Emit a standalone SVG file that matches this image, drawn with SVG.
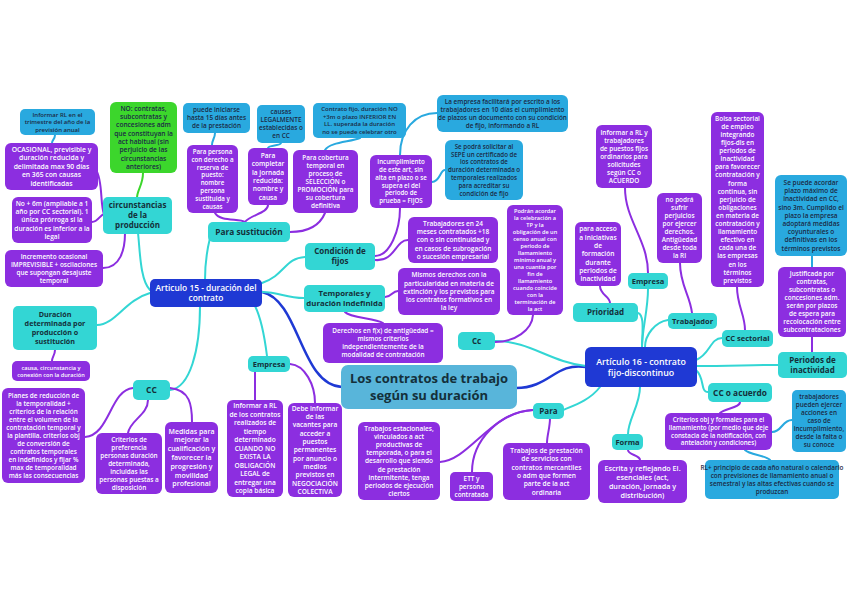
<svg xmlns="http://www.w3.org/2000/svg" width="848" height="599" viewBox="0 0 848 599">
<style>
.bg{fill:#ffffff}
.p{fill:#8c2ee0}
.c{fill:#33d6d4}
.b{fill:#29a9df}
.g{fill:#3cd62c}
.d{fill:#1f39d4}
.m{fill:#58b5da}
text{font-family:"Open Sans","Noto Sans","Liberation Sans",sans-serif;text-anchor:middle;font-weight:600}
.tw{fill:#ffffff}
.tk{fill:#1b2a45}
.tc{fill:#14303a;font-weight:700}
.lc{fill:none;stroke:#33d6d4;stroke-width:2;stroke-linecap:round}
.lp{fill:none;stroke:#8c2ee0;stroke-width:2;stroke-linecap:round}
.lb{fill:none;stroke:#29a9df;stroke-width:2;stroke-linecap:round}
.lg{fill:none;stroke:#3cd62c;stroke-width:2;stroke-linecap:round}
.ld{fill:none;stroke:#1f39d4;stroke-width:2.5;stroke-linecap:round}
</style>
<rect class="bg" x="0" y="0" width="848" height="599"/>
<g id="connectors">
<path class="ld" d="M262,292 C300,300 300,385 342,387"/>
<path class="ld" d="M516,388 C550,388 555,362 586,367"/>
<path class="lc" d="M150,290 C140,280 140,250 138,233"/>
<path class="lc" d="M205,280 C205,260 207,250 210,238"/>
<path class="lc" d="M262,283 C285,275 285,258 305,257"/>
<path class="lc" d="M262,292 C280,292 285,298 304,298"/>
<path class="lc" d="M255,306 C262,320 265,340 267,356"/>
<path class="lc" d="M200,306 C200,350 190,388 170,390"/>
<path class="lc" d="M150,293 C125,300 115,325 97,325"/>
<path class="lc" d="M495,341 C530,341 550,362 586,366"/>
<path class="lc" d="M600,387 C590,400 575,405 563,410"/>
<path class="lc" d="M638,313 C645,315 642,335 642,347"/>
<path class="lc" d="M648,289 C648,310 642,330 642,347"/>
<path class="lc" d="M668,320 C655,322 645,335 645,347"/>
<path class="lc" d="M696,360 C710,355 710,338 722,338"/>
<path class="lc" d="M696,366 C730,366 750,365 778,365"/>
<path class="lc" d="M696,370 C705,378 700,392 708,392"/>
<path class="lc" d="M640,387 C640,405 628,420 628,434"/>
<path class="lp" d="M96,170 C103,180 100,205 104,214"/>
<path class="lp" d="M92,222 C98,222 100,215 104,214"/>
<path class="lp" d="M103,268 C120,268 125,250 125,233"/>
<path class="lg" d="M143,173 C143,185 137,190 137,198"/>
<path class="lb" d="M55,135 C55,139 52,140 52,143"/>
<path class="lp" d="M55,350 C55,355 52,357 52,361"/>
<path class="lp" d="M133,388 C110,390 110,435 85,437"/>
<path class="lp" d="M148,400 C148,415 130,420 128,433"/>
<path class="lp" d="M170,388 C190,390 192,405 192,422"/>
<path class="lp" d="M215,213 C220,222 240,218 245,222"/>
<path class="lp" d="M268,205 C268,213 250,215 245,222"/>
<path class="lp" d="M290,232 C310,232 320,225 325,213"/>
<path class="lb" d="M215,133 C215,138 212,140 212,145"/>
<path class="lb" d="M281,143 C281,146 268,145 268,148"/>
<path class="lb" d="M360,138 C350,142 330,142 325,150"/>
<path class="lp" d="M375,256 C390,256 400,230 400,208"/>
<path class="lp" d="M375,260 C395,262 395,240 408,240"/>
<path class="lb" d="M400,155 C400,130 415,113 437,113"/>
<path class="lb" d="M432,182 C440,182 440,170 445,170"/>
<path class="lp" d="M385,297 C392,297 392,291 398,291"/>
<path class="lp" d="M345,312 C350,318 375,318 383,323"/>
<path class="lp" d="M255,372 C255,385 255,392 255,400"/>
<path class="lp" d="M290,364 C305,365 315,385 315,403"/>
<path class="lp" d="M495,342 C515,342 532,330 533,315"/>
<path class="lp" d="M533,410 C490,412 470,460 440,462"/>
<path class="lp" d="M533,410 C500,412 472,440 472,472"/>
<path class="lp" d="M550,418 C550,428 547,435 547,443"/>
<path class="lp" d="M600,286 C600,295 610,296 610,303"/>
<path class="lp" d="M625,188 C625,220 648,240 648,273"/>
<path class="lp" d="M680,263 C680,285 690,295 692,313"/>
<path class="lp" d="M737,287 C737,305 745,315 745,330"/>
<path class="lb" d="M812,256 L812,267"/>
<path class="lp" d="M812,337 L812,352"/>
<path class="lp" d="M740,402 C740,408 725,408 720,413"/>
<path class="lb" d="M772,432 C782,432 782,420 792,420"/>
<path class="lb" d="M745,450 C750,455 765,455 770,460"/>
<path class="lp" d="M628,450 C628,455 640,455 640,460"/>
</g>

<g id="central"><rect class="m" x="341" y="365" width="176" height="44" rx="7"/>
<text class="tc" font-size="13" x="429" y="382.5"><tspan x="429" dy="0">Los contratos de trabajo</tspan><tspan x="429" dy="17">según su duración</tspan></text></g>

<g id="art15"><rect class="d" x="150" y="279" width="112" height="28" rx="5"/>
<text class="tw" font-size="8.4" font-weight="700" x="206" y="290.8"><tspan x="206" dy="0">Articulo 15 - duración del</tspan><tspan x="206" dy="10.5">contrato</tspan></text></g>

<g id="art16"><rect class="d" x="585" y="347" width="112" height="40" rx="6"/>
<text class="tw" font-size="8.8" font-weight="700" x="641" y="364.7"><tspan x="641" dy="0">Artículo 16 - contrato</tspan><tspan x="641" dy="11">fijo-discontinuo</tspan></text></g>

<g id="circunstancias"><rect class="c" x="103" y="197" width="69" height="37" rx="5"/>
<text class="tc" font-size="8" x="137.5" y="208.3"><tspan x="137.5" dy="0">circunstancias</tspan><tspan x="137.5" dy="10">de la</tspan><tspan x="137.5" dy="10">producción</tspan></text></g>

<g id="duracion"><rect class="c" x="13" y="306" width="84" height="44" rx="5"/>
<text class="tc" font-size="7.2" x="55" y="317"><tspan x="55" dy="0">Duración</tspan><tspan x="55" dy="9">determinada por</tspan><tspan x="55" dy="9">producción o</tspan><tspan x="55" dy="9">sustitución</tspan></text></g>

<g id="cc15"><rect class="c" x="133" y="380" width="37" height="20" rx="5"/>
<text class="tc" font-size="8.5" x="151.5" y="393">CC</text></g>

<g id="sustitucion"><rect class="c" x="208" y="222" width="82" height="20" rx="5"/>
<text class="tc" font-size="8.3" x="249" y="235">Para sustitución</text></g>

<g id="condicion"><rect class="c" x="305" y="243" width="70" height="27" rx="5"/>
<text class="tc" font-size="8" x="340" y="254.3"><tspan x="340" dy="0">Condición de</tspan><tspan x="340" dy="10">fijos</tspan></text></g>

<g id="temporales"><rect class="c" x="304" y="285" width="81" height="27" rx="5"/>
<text class="tc" font-size="7.8" x="344.5" y="296.3"><tspan x="344.5" dy="0">Temporales y</tspan><tspan x="344.5" dy="10">duración indefinida</tspan></text></g>

<g id="empresa15"><rect class="c" x="248" y="356" width="42" height="16" rx="5"/>
<text class="tc" font-size="7.5" x="269" y="366.6">Empresa</text></g>

<g id="cc16"><rect class="c" x="458" y="332" width="37" height="18" rx="5"/>
<text class="tc" font-size="8" x="476.5" y="343.8">Cc</text></g>

<g id="para"><rect class="c" x="533" y="403" width="31" height="16" rx="5"/>
<text class="tc" font-size="8" x="548.5" y="413.8">Para</text></g>

<g id="prioridad"><rect class="c" x="573" y="303" width="65" height="19" rx="5"/>
<text class="tc" font-size="8" x="605.5" y="315.3">Prioridad</text></g>

<g id="empresa16"><rect class="c" x="628" y="273" width="40" height="16" rx="5"/>
<text class="tc" font-size="7.5" x="648" y="283.6">Empresa</text></g>

<g id="trabajador"><rect class="c" x="668" y="313" width="49" height="16" rx="5"/>
<text class="tc" font-size="7.5" x="692.5" y="323.6">Trabajador</text></g>

<g id="ccsectorial"><rect class="c" x="722" y="330" width="51" height="17" rx="5"/>
<text class="tc" font-size="7.5" x="747.5" y="341.1">CC sectorial</text></g>

<g id="periodos"><rect class="c" x="778" y="352" width="69" height="26" rx="5"/>
<text class="tc" font-size="8" x="812.5" y="362.8"><tspan x="812.5" dy="0">Periodos de</tspan><tspan x="812.5" dy="10">inactividad</tspan></text></g>

<g id="ccacuerdo"><rect class="c" x="708" y="383" width="64" height="19" rx="5"/>
<text class="tc" font-size="8.3" x="740" y="395.5">CC o acuerdo</text></g>

<g id="forma"><rect class="c" x="612" y="434" width="31" height="16" rx="5"/>
<text class="tc" font-size="7.5" x="627.5" y="444.6">Forma</text></g>

<g id="no-contratas"><rect class="g" x="110" y="102" width="67" height="71" rx="6"/>
<text class="tk" font-size="6.6" x="143.5" y="110.8"><tspan x="143.5" dy="0">NO: contratas,</tspan><tspan x="143.5" dy="8.3">subcontratas y</tspan><tspan x="143.5" dy="8.3">concesiones adm</tspan><tspan x="143.5" dy="8.3">que constituyan la</tspan><tspan x="143.5" dy="8.3">act habitual (sin</tspan><tspan x="143.5" dy="8.3">perjuicio de las</tspan><tspan x="143.5" dy="8.3">circunstancias</tspan><tspan x="143.5" dy="8.3">anteriores)</tspan></text></g>

<g id="informar-rl-trim"><rect class="b" x="20" y="109" width="75" height="26" rx="5"/>
<text class="tk" font-size="6" x="57.5" y="116.6"><tspan x="57.5" dy="0">Informar RL en el</tspan><tspan x="57.5" dy="7.5">trimestre del año de la</tspan><tspan x="57.5" dy="7.5">previsión anual</tspan></text></g>

<g id="puede-iniciarse"><rect class="b" x="183" y="103" width="67" height="30" rx="5"/>
<text class="tk" font-size="6.4" x="216.5" y="112.3"><tspan x="216.5" dy="0">puede iniciarse</tspan><tspan x="216.5" dy="8">hasta 15 días antes</tspan><tspan x="216.5" dy="8">de la prestación</tspan></text></g>

<g id="causas-legal"><rect class="b" x="257" y="105" width="48" height="38" rx="5"/>
<text class="tk" font-size="6.4" x="281" y="114.3"><tspan x="281" dy="0">causas</tspan><tspan x="281" dy="8">LEGALMENTE</tspan><tspan x="281" dy="8">establecidas o</tspan><tspan x="281" dy="8">en CC</tspan></text></g>

<g id="contrato-fijo"><rect class="b" x="313" y="103" width="93" height="35" rx="5"/>
<text class="tk" font-size="6" x="359.5" y="111.4"><tspan x="359.5" dy="0">Contrato fijo, duración NO</tspan><tspan x="359.5" dy="7.5">+3m o plazo INFERIOR EN</tspan><tspan x="359.5" dy="7.5">LL. superada la duración</tspan><tspan x="359.5" dy="7.5">no se puede celebrar otro</tspan></text></g>

<g id="empresa-facilitara"><rect class="b" x="437" y="95" width="131" height="37" rx="6"/>
<text class="tk" font-size="6.4" x="502.5" y="103.8"><tspan x="502.5" dy="0">La empresa facilitará por escrito a los</tspan><tspan x="502.5" dy="8">trabajadores en 10 días el cumplimiento</tspan><tspan x="502.5" dy="8">de plazos un documento con su condición</tspan><tspan x="502.5" dy="8">de fijo, informando a RL</tspan></text></g>

<g id="sepe"><rect class="b" x="445" y="140" width="78" height="60" rx="6"/>
<text class="tk" font-size="6.2" x="484" y="148.8"><tspan x="484" dy="0">Se podrá solicitar al</tspan><tspan x="484" dy="7.8">SEPE un certificado de</tspan><tspan x="484" dy="7.8">los contratos de</tspan><tspan x="484" dy="7.8">duración determinada o</tspan><tspan x="484" dy="7.8">temporales realizados</tspan><tspan x="484" dy="7.8">para acreditar su</tspan><tspan x="484" dy="7.8">condición de fijo</tspan></text></g>

<g id="plazo-max"><rect class="b" x="775" y="175" width="72" height="81" rx="6"/>
<text class="tk" font-size="6.5" x="811" y="185"><tspan x="811" dy="0">Se puede acordar</tspan><tspan x="811" dy="8.2">plazo máximo de</tspan><tspan x="811" dy="8.2">inactividad en CC,</tspan><tspan x="811" dy="8.2">sino 3m. Cumplido el</tspan><tspan x="811" dy="8.2">plazo la empresa</tspan><tspan x="811" dy="8.2">adoptará medidas</tspan><tspan x="811" dy="8.2">coyunturales o</tspan><tspan x="811" dy="8.2">definitivas en los</tspan><tspan x="811" dy="8.2">términos previstos</tspan></text></g>

<g id="acciones"><rect class="b" x="792" y="390" width="54" height="62" rx="5"/>
<text class="tk" font-size="6.4" x="819" y="399.3"><tspan x="819" dy="0">trabajadores</tspan><tspan x="819" dy="8">pueden ejercer</tspan><tspan x="819" dy="8">acciones en</tspan><tspan x="819" dy="8">caso de</tspan><tspan x="819" dy="8">incumplimiento,</tspan><tspan x="819" dy="8">desde la falta o</tspan><tspan x="819" dy="8">su conoce</tspan></text></g>

<g id="rl-principio"><rect class="b" x="705" y="460" width="134" height="39" rx="5"/>
<text class="tk" font-size="6.4" x="772" y="469.8"><tspan x="772" dy="0">RL+ principio de cada año natural o calendario</tspan><tspan x="772" dy="8">con previsiones de llamamiento anual o</tspan><tspan x="772" dy="8">semestral y las altas efectivas cuando se</tspan><tspan x="772" dy="8">produzcan</tspan></text></g>

<g id="ocasional"><rect class="p" x="5" y="143" width="93" height="47" rx="6"/>
<text class="tw" font-size="6.8" x="51.5" y="151.9"><tspan x="51.5" dy="0">OCASIONAL, previsible y</tspan><tspan x="51.5" dy="8.5">duración reducida y</tspan><tspan x="51.5" dy="8.5">delimitada max 90 días</tspan><tspan x="51.5" dy="8.5">en 365 con causas</tspan><tspan x="51.5" dy="8.5">identificadas</tspan></text></g>

<g id="no-6m"><rect class="p" x="12" y="197" width="80" height="46" rx="6"/>
<text class="tw" font-size="6.6" x="52" y="205.7"><tspan x="52" dy="0">No + 6m (ampliable a 1</tspan><tspan x="52" dy="8.3">año por CC sectorial). 1</tspan><tspan x="52" dy="8.3">única prórroga si la</tspan><tspan x="52" dy="8.3">duración es inferior a la</tspan><tspan x="52" dy="8.3">legal</tspan></text></g>

<g id="incremento"><rect class="p" x="5" y="250" width="98" height="37" rx="6"/>
<text class="tw" font-size="6.4" x="54" y="258.7"><tspan x="54" dy="0">Incremento ocasional</tspan><tspan x="54" dy="8">IMPREVISIBLE + oscilaciones</tspan><tspan x="54" dy="8">que supongan desajuste</tspan><tspan x="54" dy="8">temporal</tspan></text></g>

<g id="causa"><rect class="p" x="12" y="361" width="78" height="20" rx="5"/>
<text class="tw" font-size="5.6" x="51" y="369.5"><tspan x="51" dy="0">causa, circunstancia y</tspan><tspan x="51" dy="7">conexión con la duración</tspan></text></g>

<g id="planes"><rect class="p" x="2" y="388" width="83" height="95" rx="6"/>
<text class="tw" font-size="6.4" x="43.5" y="397.8"><tspan x="43.5" dy="0">Planes de reducción de</tspan><tspan x="43.5" dy="8">la temporalidad +</tspan><tspan x="43.5" dy="8">criterios de la relación</tspan><tspan x="43.5" dy="8">entre el volumen de la</tspan><tspan x="43.5" dy="8">contratación temporal y</tspan><tspan x="43.5" dy="8">la plantilla. criterios obj</tspan><tspan x="43.5" dy="8">de conversión de</tspan><tspan x="43.5" dy="8">contratos temporales</tspan><tspan x="43.5" dy="8">en indefinidos y fijar %</tspan><tspan x="43.5" dy="8">max de temporalidad</tspan><tspan x="43.5" dy="8">más las consecuencias</tspan></text></g>

<g id="criterios-pref"><rect class="p" x="96" y="433" width="66" height="61" rx="6"/>
<text class="tw" font-size="6.4" x="129" y="441.8"><tspan x="129" dy="0">Criterios de</tspan><tspan x="129" dy="8">preferencia</tspan><tspan x="129" dy="8">personas duración</tspan><tspan x="129" dy="8">determinada,</tspan><tspan x="129" dy="8">incluidas las</tspan><tspan x="129" dy="8">personas puestas a</tspan><tspan x="129" dy="8">disposición</tspan></text></g>

<g id="medidas"><rect class="p" x="165" y="422" width="53" height="71" rx="6"/>
<text class="tw" font-size="7" x="191.5" y="433.5"><tspan x="191.5" dy="0">Medidas para</tspan><tspan x="191.5" dy="8.8">mejorar la</tspan><tspan x="191.5" dy="8.8">cualificación y</tspan><tspan x="191.5" dy="8.8">favorecer la</tspan><tspan x="191.5" dy="8.8">progresión y</tspan><tspan x="191.5" dy="8.8">movilidad</tspan><tspan x="191.5" dy="8.8">profesional</tspan></text></g>

<g id="para-persona"><rect class="p" x="187" y="145" width="51" height="68" rx="6"/>
<text class="tw" font-size="6.2" x="212.5" y="153.9"><tspan x="212.5" dy="0">Para persona</tspan><tspan x="212.5" dy="7.8">con derecho a</tspan><tspan x="212.5" dy="7.8">reserva de</tspan><tspan x="212.5" dy="7.8">puesto:</tspan><tspan x="212.5" dy="7.8">nombre</tspan><tspan x="212.5" dy="7.8">persona</tspan><tspan x="212.5" dy="7.8">sustituida y</tspan><tspan x="212.5" dy="7.8">causas</tspan></text></g>

<g id="para-completar"><rect class="p" x="248" y="148" width="40" height="57" rx="6"/>
<text class="tw" font-size="6.6" x="268" y="158"><tspan x="268" dy="0">Para</tspan><tspan x="268" dy="8.3">completar</tspan><tspan x="268" dy="8.3">la jornada</tspan><tspan x="268" dy="8.3">reducida:</tspan><tspan x="268" dy="8.3">nombre y</tspan><tspan x="268" dy="8.3">causa</tspan></text></g>

<g id="para-cobertura"><rect class="p" x="293" y="150" width="65" height="63" rx="6"/>
<text class="tw" font-size="6.4" x="325.5" y="159.8"><tspan x="325.5" dy="0">Para cobertura</tspan><tspan x="325.5" dy="8">temporal en</tspan><tspan x="325.5" dy="8">proceso de</tspan><tspan x="325.5" dy="8">SELECCIÓN o</tspan><tspan x="325.5" dy="8">PROMOCIÓN para</tspan><tspan x="325.5" dy="8">su cobertura</tspan><tspan x="325.5" dy="8">definitiva</tspan></text></g>

<g id="incumplimiento"><rect class="p" x="370" y="155" width="62" height="53" rx="6"/>
<text class="tw" font-size="6.2" x="401" y="164.2"><tspan x="401" dy="0">Incumplimiento</tspan><tspan x="401" dy="7.8">de este art, sin</tspan><tspan x="401" dy="7.8">alta en plazo o se</tspan><tspan x="401" dy="7.8">supera el del</tspan><tspan x="401" dy="7.8">periodo de</tspan><tspan x="401" dy="7.8">prueba = FIJOS</tspan></text></g>

<g id="trabajadores24"><rect class="p" x="408" y="217" width="90" height="46" rx="6"/>
<text class="tw" font-size="6.5" x="453" y="225.9"><tspan x="453" dy="0">Trabajadores en 24</tspan><tspan x="453" dy="8.2">meses contratados +18</tspan><tspan x="453" dy="8.2">con o sin continuidad y</tspan><tspan x="453" dy="8.2">en casos de subrogación</tspan><tspan x="453" dy="8.2">o sucesión empresarial</tspan></text></g>

<g id="mismos-derechos"><rect class="p" x="398" y="268" width="102" height="47" rx="6"/>
<text class="tw" font-size="6.5" x="449" y="277.4"><tspan x="449" dy="0">Mismos derechos con la</tspan><tspan x="449" dy="8.2">particularidad en materia de</tspan><tspan x="449" dy="8.2">extinción y los previstos para</tspan><tspan x="449" dy="8.2">los contratos formativos en</tspan><tspan x="449" dy="8.2">la ley</tspan></text></g>

<g id="derechos-antig"><rect class="p" x="323" y="323" width="120" height="40" rx="6"/>
<text class="tw" font-size="6.4" x="383" y="333.2"><tspan x="383" dy="0">Derechos en f(x) de antigüedad =</tspan><tspan x="383" dy="8">mismos criterios</tspan><tspan x="383" dy="8">independientemente de la</tspan><tspan x="383" dy="8">modalidad de contratación</tspan></text></g>

<g id="informar-rl-contratos"><rect class="p" x="227" y="400" width="56" height="97" rx="6"/>
<text class="tw" font-size="6.6" x="255" y="408.3"><tspan x="255" dy="0">Informar a RL</tspan><tspan x="255" dy="8.5">de los contratos</tspan><tspan x="255" dy="8.5">realizados de</tspan><tspan x="255" dy="8.5">tiempo</tspan><tspan x="255" dy="8.5">determinado</tspan><tspan x="255" dy="8.5">CUANDO NO</tspan><tspan x="255" dy="8.5">EXISTA LA</tspan><tspan x="255" dy="8.5">OBLIGACIÓN</tspan><tspan x="255" dy="8.5">LEGAL de</tspan><tspan x="255" dy="8.5">entregar una</tspan><tspan x="255" dy="8.5">copia básica</tspan></text></g>

<g id="debe-informar"><rect class="p" x="288" y="403" width="54" height="94" rx="6"/>
<text class="tw" font-size="6.6" x="315" y="410.8"><tspan x="315" dy="0">Debe informar</tspan><tspan x="315" dy="8.3">de las</tspan><tspan x="315" dy="8.3">vacantes para</tspan><tspan x="315" dy="8.3">acceder a</tspan><tspan x="315" dy="8.3">puestos</tspan><tspan x="315" dy="8.3">permanentes</tspan><tspan x="315" dy="8.3">por anuncio o</tspan><tspan x="315" dy="8.3">medios</tspan><tspan x="315" dy="8.3">previstos en</tspan><tspan x="315" dy="8.3">NEGOCIACIÓN</tspan><tspan x="315" dy="8.3">COLECTIVA</tspan></text></g>

<g id="trabajos-estacionales"><rect class="p" x="358" y="422" width="82" height="78" rx="6"/>
<text class="tw" font-size="6.5" x="399" y="430.5"><tspan x="399" dy="0">Trabajos estacionales,</tspan><tspan x="399" dy="8.2">vinculados a act</tspan><tspan x="399" dy="8.2">productivas de</tspan><tspan x="399" dy="8.2">temporada, o para el</tspan><tspan x="399" dy="8.2">desarrollo que siendo</tspan><tspan x="399" dy="8.2">de prestación</tspan><tspan x="399" dy="8.2">intermitente, tenga</tspan><tspan x="399" dy="8.2">periodos de ejecución</tspan><tspan x="399" dy="8.2">ciertos</tspan></text></g>

<g id="ett"><rect class="p" x="450" y="472" width="43" height="29" rx="5"/>
<text class="tw" font-size="6.4" x="471.5" y="480.7"><tspan x="471.5" dy="0">ETT y</tspan><tspan x="471.5" dy="8">persona</tspan><tspan x="471.5" dy="8">contratada</tspan></text></g>

<g id="trabajos-prestacion"><rect class="p" x="503" y="443" width="87" height="57" rx="6"/>
<text class="tw" font-size="6.6" x="546.5" y="453"><tspan x="546.5" dy="0">Trabajos de prestación</tspan><tspan x="546.5" dy="8.3">de servicios con</tspan><tspan x="546.5" dy="8.3">contratos mercantiles</tspan><tspan x="546.5" dy="8.3">o adm que formen</tspan><tspan x="546.5" dy="8.3">parte de la act</tspan><tspan x="546.5" dy="8.3">ordinaria</tspan></text></g>

<g id="podran-acordar"><rect class="p" x="507" y="205" width="56" height="110" rx="6"/>
<text class="tw" font-size="5.6" x="535" y="213"><tspan x="535" dy="0">Podrán acordar</tspan><tspan x="535" dy="7">la celebración a</tspan><tspan x="535" dy="7">TP y la</tspan><tspan x="535" dy="7">obligación de un</tspan><tspan x="535" dy="7">censo anual con</tspan><tspan x="535" dy="7">periodo de</tspan><tspan x="535" dy="7">llamamiento</tspan><tspan x="535" dy="7">mínimo anual y</tspan><tspan x="535" dy="7">una cuantía por</tspan><tspan x="535" dy="7">fin de</tspan><tspan x="535" dy="7">llamamiento</tspan><tspan x="535" dy="7">cuando coincide</tspan><tspan x="535" dy="7">con la</tspan><tspan x="535" dy="7">terminación de</tspan><tspan x="535" dy="7">la act</tspan></text></g>

<g id="para-acceso"><rect class="p" x="575" y="222" width="46" height="64" rx="6"/>
<text class="tw" font-size="6.6" x="598" y="231.4"><tspan x="598" dy="0">para acceso</tspan><tspan x="598" dy="8.3">a iniciativas</tspan><tspan x="598" dy="8.3">de</tspan><tspan x="598" dy="8.3">formación</tspan><tspan x="598" dy="8.3">durante</tspan><tspan x="598" dy="8.3">periodos de</tspan><tspan x="598" dy="8.3">inactividad</tspan></text></g>

<g id="informar-rl-trab"><rect class="p" x="596" y="125" width="56" height="63" rx="6"/>
<text class="tw" font-size="6.4" x="624" y="134.7"><tspan x="624" dy="0">Informar a RL y</tspan><tspan x="624" dy="8">trabajadores</tspan><tspan x="624" dy="8">de puestos fijos</tspan><tspan x="624" dy="8">ordinarios para</tspan><tspan x="624" dy="8">solicitudes</tspan><tspan x="624" dy="8">según CC o</tspan><tspan x="624" dy="8">ACUERDO</tspan></text></g>

<g id="no-podra"><rect class="p" x="657" y="193" width="45" height="70" rx="6"/>
<text class="tw" font-size="6.4" x="679.5" y="202.2"><tspan x="679.5" dy="0">no podrá</tspan><tspan x="679.5" dy="8">sufrir</tspan><tspan x="679.5" dy="8">perjuicios</tspan><tspan x="679.5" dy="8">por ejercer</tspan><tspan x="679.5" dy="8">derechos.</tspan><tspan x="679.5" dy="8">Antigüedad</tspan><tspan x="679.5" dy="8">desde toda</tspan><tspan x="679.5" dy="8">la RI</tspan></text></g>

<g id="bolsa"><rect class="p" x="711" y="112" width="53" height="175" rx="6"/>
<text class="tw" font-size="6.4" x="737.5" y="120.7"><tspan x="737.5" dy="0">Bolsa sectorial</tspan><tspan x="737.5" dy="8.1">de empleo</tspan><tspan x="737.5" dy="8.1">integrando</tspan><tspan x="737.5" dy="8.1">fijos-dis en</tspan><tspan x="737.5" dy="8.1">periodos de</tspan><tspan x="737.5" dy="8.1">inactividad</tspan><tspan x="737.5" dy="8.1">para favorecer</tspan><tspan x="737.5" dy="8.1">contratación y</tspan><tspan x="737.5" dy="8.1">forma</tspan><tspan x="737.5" dy="8.1">continua, sin</tspan><tspan x="737.5" dy="8.1">perjuicio de</tspan><tspan x="737.5" dy="8.1">obligaciones</tspan><tspan x="737.5" dy="8.1">en materia de</tspan><tspan x="737.5" dy="8.1">contratación y</tspan><tspan x="737.5" dy="8.1">llamamiento</tspan><tspan x="737.5" dy="8.1">efectivo en</tspan><tspan x="737.5" dy="8.1">cada una de</tspan><tspan x="737.5" dy="8.1">las empresas</tspan><tspan x="737.5" dy="8.1">en los</tspan><tspan x="737.5" dy="8.1">términos</tspan><tspan x="737.5" dy="8.1">previstos</tspan></text></g>

<g id="justificada"><rect class="p" x="778" y="267" width="68" height="70" rx="6"/>
<text class="tw" font-size="6.4" x="812" y="276.2"><tspan x="812" dy="0">Justificada por</tspan><tspan x="812" dy="8">contratas,</tspan><tspan x="812" dy="8">subcontratas o</tspan><tspan x="812" dy="8">concesiones adm.</tspan><tspan x="812" dy="8">serán por plazos</tspan><tspan x="812" dy="8">de espera para</tspan><tspan x="812" dy="8">recolocación entre</tspan><tspan x="812" dy="8">subcontrataciones</tspan></text></g>

<g id="criterios-obj"><rect class="p" x="665" y="413" width="107" height="37" rx="6"/>
<text class="tw" font-size="6.2" x="718.5" y="422"><tspan x="718.5" dy="0">Criterios obj y formales para el</tspan><tspan x="718.5" dy="7.8">llamamiento (por medio que deje</tspan><tspan x="718.5" dy="7.8">constacia de la notificación, con</tspan><tspan x="718.5" dy="7.8">antelación y condiciones)</tspan></text></g>

<g id="escrita"><rect class="p" x="598" y="460" width="89" height="43" rx="6"/>
<text class="tw" font-size="7.2" x="642.5" y="470.5"><tspan x="642.5" dy="0">Escrita y reflejando El.</tspan><tspan x="642.5" dy="9">esenciales (act,</tspan><tspan x="642.5" dy="9">duración, jornada y</tspan><tspan x="642.5" dy="9">distribución)</tspan></text></g>
</svg>
